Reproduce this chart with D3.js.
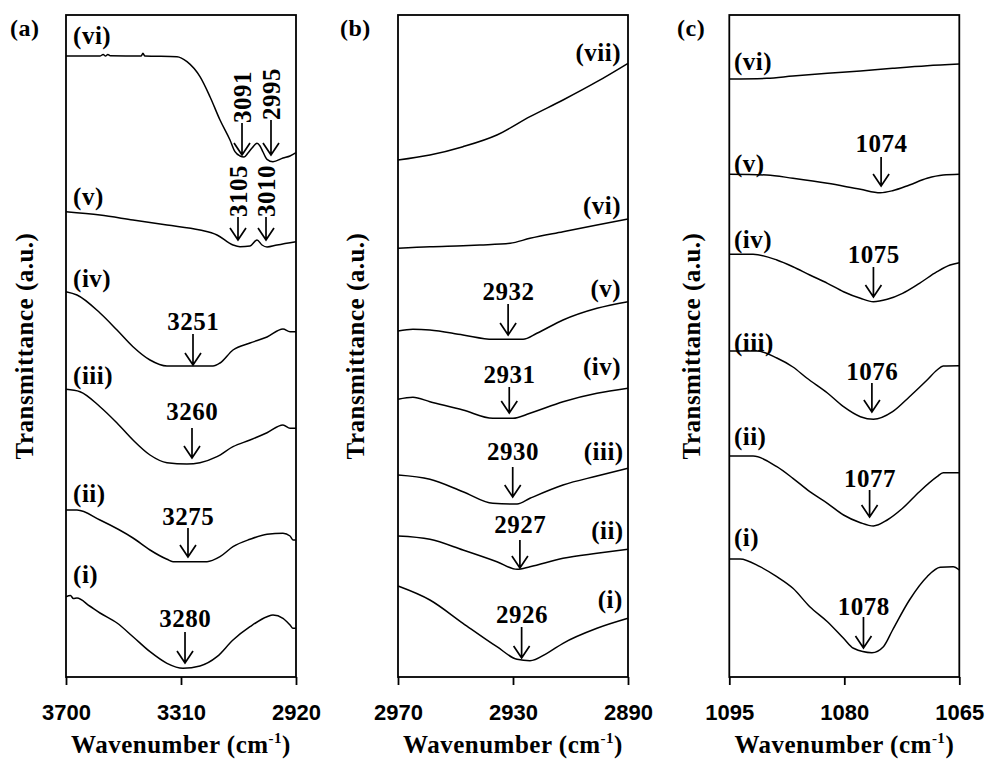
<!DOCTYPE html>
<html><head><meta charset="utf-8">
<script src="https://cdn.jsdelivr.net/npm/d3@7"></script>
<style>body{margin:0;background:#fff} svg{display:block}</style>
</head><body>
<svg id="chart" width="987" height="761"></svg>
<script>
// ---------------- DATA ----------------
const panelLetters = ["(a)", "(b)", "(c)"];
const ticksA = [3700, 3310, 2920];
const ticksB = [2970, 2930, 2890];
const ticksC = [1095, 1080, 1065];
const yTitle = "Transmittance (a.u.)";
const xTitle = "Wavenumber (cm";

// Panel (a) spectra : [wavenumber, transmittance (a.u., offset)]
const a_i = [[3700,80.3],[3685,81.5],[3675,78.5],[3662.7,79],[3620,71],[3584.7,64],[3527,54],[3472.8,40.3],[3415.1,25.3],[3357.5,13.7],[3303.3,8.7],[3245.6,11],[3187.9,20.3],[3133.7,37],[3076,50.3],[3018.3,60.3],[2998,62],[2964.1,58.7],[2940.3,52],[2930.2,48.7],[2920,48.7]];
const a_ii = [[3700,167],[3662.7,167],[3584.7,157],[3472.8,139],[3415.1,127],[3357.5,117.7],[3337.1,115.3],[3221.8,115.3],[3177.7,120.3],[3133.7,130.3],[3076,137.7],[3018.3,142.7],[2964.1,143.7],[2940.3,141],[2930.2,137],[2920,137]];
const a_iii = [[3700,287.7],[3652.5,285.3],[3584.7,270.3],[3527,254],[3472.8,237],[3415.1,222],[3357.5,214.3],[3289.7,213],[3245.6,214.3],[3187.9,220.3],[3133.7,230.3],[3076,237],[3018.3,244.3],[2964.1,252],[2940.3,248.7],[2920,248.7]];
const a_iv = [[3700,385.3],[3662.7,382],[3584.7,364],[3527,347],[3472.8,330.3],[3415.1,317],[3357.5,311],[3201.5,311],[3177.7,314],[3133.7,327],[3076,334],[3018.3,340],[2964.1,348],[2940.3,345.3],[2920,345.3]];
const a_v = [[3700,465.3],[3584.7,462],[3472.8,457],[3357.5,452],[3245.6,447],[3187.9,442],[3133.7,432],[3109.9,430.3],[3076,431],[3052.3,437],[3035.3,432],[3018.3,430],[2984.4,432],[2920,435.3]];
const a_vi = [[3700,621],[3584.7,621],[3574,622.5],[3566,621],[3558,622.5],[3550,621.3],[3445,621],[3439,623.7],[3433,621],[3323.6,620.3],[3289.7,615.3],[3245.6,600.3],[3211.7,580.3],[3177.7,557],[3143.8,537],[3126.9,525.3],[3109.9,521],[3096.3,520],[3082.8,524],[3069.2,529],[3052.3,533.7],[3042.1,531],[3031.9,525],[3018.3,517.7],[2998,515.3],[2964.1,519],[2940.3,521],[2920,524.3]];

// Panel (b)
const b_i = [[2970,91],[2958.9,77],[2947.4,53.7],[2935.6,30.3],[2928.6,17.7],[2924.1,16.3],[2918.2,23.7],[2912.6,33.7],[2900.8,48.7],[2890,58.7]];
const b_ii = [[2970,141],[2958.9,137.7],[2947.4,127],[2935.6,115.3],[2928.6,107.7],[2924.1,110.3],[2912.6,118.7],[2900.8,123.7],[2890,127.7]];
const b_iii = [[2970,202],[2958.9,197.7],[2947.4,185.3],[2937,173.7],[2928.6,173],[2924.1,178.7],[2912.6,192],[2900.8,201],[2890,208.7]];
const b_iv = [[2970,277.7],[2964.8,279.7],[2958.9,275.3],[2947.4,267],[2937,258.7],[2930,258.7],[2924.1,263.7],[2912.6,275.3],[2900.8,283.7],[2890,288.7]];
const b_v = [[2970,346],[2964.8,347.7],[2958.9,347],[2947.4,342],[2937,337.7],[2926.5,337.7],[2921.7,343.7],[2912.6,357],[2900.8,368.7],[2890,375.3]];
const b_vi = [[2970,428.7],[2958.9,430.3],[2947.4,431.3],[2941.5,432],[2931,433.7],[2924.1,438.7],[2912.6,445.3],[2900.8,452],[2890,458]];
const b_vii = [[2970,517],[2958.9,522],[2947.4,530.3],[2935.6,542],[2924.1,560.3],[2912.6,577],[2900.8,595.3],[2890,613.7]];

// Panel (c)
const c_i = [[1095,118],[1093.6,118],[1091,110.3],[1088.8,100.3],[1086.7,88.7],[1084.5,70.3],[1082.2,55.3],[1080.1,38.7],[1078.8,28.7],[1076.4,24.3],[1074.9,30.3],[1073.7,47],[1071.5,77],[1069.2,100.3],[1067.5,109.7],[1065.8,110.3],[1065,107]];
const c_ii = [[1095,221],[1091.9,221],[1088.8,210.3],[1086.7,198.7],[1084.5,185.3],[1082.2,173.7],[1080.1,162],[1077.9,154.3],[1076.2,151],[1074.4,157],[1072.4,168.7],[1070.2,185.3],[1067.9,200.3],[1067.1,204.3],[1065,204.3]];
const c_iii = [[1095,326],[1091.4,326],[1088.8,319],[1086.7,310],[1084.9,299],[1082.2,284],[1080.1,270.3],[1077.9,260.3],[1076.2,257.7],[1073.7,265.3],[1071.5,280.3],[1069.2,297],[1067.9,307],[1067.1,311],[1065,311.3]];
const c_iv = [[1095,422.7],[1091.9,422.7],[1088.8,417],[1086.7,410.3],[1084.5,402],[1082.2,393.7],[1080.1,385.3],[1077.9,378.7],[1076.2,375.3],[1074.4,377.7],[1072.4,383.7],[1070.2,393.7],[1067.9,405.3],[1066.2,412],[1065,414.3]];
const c_v = [[1095,502.7],[1090.1,502],[1086.7,498.7],[1082.2,493.7],[1077.9,487.7],[1075.3,484.3],[1073.7,486.3],[1071.5,492],[1069.2,498.7],[1067.1,502],[1065,502.7]];
const c_vi = [[1095,598],[1090.1,598.7],[1086.7,601],[1082.2,603.7],[1077.9,606],[1073.7,608.7],[1069.2,611.3],[1065,613]];

// Curve labels: [text, wavenumber, transmittance]
const labelsA = [["(vi)",3676,642],["(v)",3676,481],["(iv)",3676,399],["(iii)",3676,302],["(ii)",3676,184],["(i)",3676,103]];
const labelsB = [["(vii)",2892.4,625],["(vi)",2892.4,472],["(v)",2892.4,389],["(iv)",2892.4,311],["(iii)",2891.5,226],["(ii)",2891.5,147],["(i)",2891.8,78]];
const labelsC = [["(vi)",1094.4,616],["(v)",1094.4,514],["(iv)",1094.4,438],["(iii)",1094.4,335],["(ii)",1094.4,241],["(i)",1094.4,140]];

// Peak annotations: [text, wavenumber, text baseline, arrow start, arrow tip]
const peaksA = [["3280",3296.4,50,45,14],["3275",3286.3,152,149,120],["3260",3272.7,257,249,219],["3251",3269.3,347,343,312]];
const vpeaksA = [["3091",3103.1,554,554,522],["2995",3004.8,557,557,522],["3105",3116.7,460,460,437],["3010",3021.7,460,460,437]];
const peaksB = [["2932",2931.7,377,373,342],["2931",2931.3,294,290,264],["2930",2930.1,217,210,180],["2927",2927.6,144,137,109],["2926",2927.0,54,50,19]];
const peaksC = [["1074",1075.2,525,520,491],["1075",1076.2,414,410,380],["1076",1076.4,297,294,265],["1077",1076.7,190,187,160],["1078",1077.5,62,60,29]];

// ---------------- DRAW ----------------
const serif = "'Liberation Serif','Times New Roman',serif";
const sans = "'Liberation Sans',Arial,sans-serif";
const FS = 25, LS = 0.5;
const svg = d3.select("#chart");
const plotTop = 15, plotBottom = 677, panelW = 230;
const y = d3.scaleLinear().domain([0, 662]).range([plotBottom, plotTop]);

const panels = [
  {letter: panelLetters[0], left: 66, ticks: ticksA, series: [a_i,a_ii,a_iii,a_iv,a_v,a_vi], labels: labelsA, anchor: "start", peaks: peaksA, vpeaks: vpeaksA, letterX: 10, titleX: 24},
  {letter: panelLetters[1], left: 398, ticks: ticksB, series: [b_i,b_ii,b_iii,b_iv,b_v,b_vi,b_vii], labels: labelsB, anchor: "end", peaks: peaksB, vpeaks: [], letterX: 340, titleX: 355},
  {letter: panelLetters[2], left: 729.3, ticks: ticksC, series: [c_i,c_ii,c_iii,c_iv,c_v,c_vi], labels: labelsC, anchor: "start", peaks: peaksC, vpeaks: [], letterX: 677, titleX: 691}
];

function arrow(g, xp, y1, y2) {
  g.append("path")
    .attr("d", `M${xp},${y1}L${xp},${y2}M${xp-8},${y2-12}L${xp},${y2}L${xp+8},${y2-12}`)
    .attr("fill", "none").attr("stroke", "#000").attr("stroke-width", 1.7);
}

function serifText(sel, size) {
  return sel.attr("font-family", serif).attr("font-weight", "bold")
    .attr("font-size", size || FS).attr("letter-spacing", LS).attr("fill", "#000");
}

panels.forEach(p => {
  const x = d3.scaleLinear().domain([p.ticks[0], p.ticks[2]]).range([p.left, p.left + panelW]);
  const g = svg.append("g");
  const line = d3.line().x(d => x(d[0])).y(d => y(d[1])).curve(d3.curveMonotoneX);

  p.series.forEach(s => {
    g.append("path").attr("d", line(s)).attr("fill", "none")
      .attr("stroke", "#000").attr("stroke-width", 1.5).attr("stroke-linejoin", "round");
  });

  g.append("rect").attr("x", p.left).attr("y", plotTop).attr("width", panelW)
    .attr("height", plotBottom - plotTop).attr("fill", "none")
    .attr("stroke", "#000").attr("stroke-width", 1.8);

  const ax = g.append("g").attr("transform", `translate(0,${plotBottom})`)
    .call(d3.axisBottom(x).tickValues(p.ticks).tickSize(8).tickPadding(19).tickFormat(d3.format("d")));
  ax.select(".domain").remove();
  ax.selectAll(".tick line").attr("stroke", "#000").attr("stroke-width", 1.8);
  ax.selectAll(".tick text").attr("font-family", sans).attr("font-weight", "bold")
    .attr("font-size", 22).attr("fill", "#000");

  // curve labels
  p.labels.forEach(l => {
    serifText(g.append("text").attr("x", x(l[1])).attr("y", y(l[2])).attr("dy", "0.35em")
      .attr("text-anchor", p.anchor)).text(l[0]);
  });

  // peak labels with arrows
  p.peaks.forEach(k => {
    const xp = x(k[1]);
    serifText(g.append("text").attr("x", xp + 0.3).attr("y", y(k[2])).attr("text-anchor", "middle")).text(k[0]);
    arrow(g, xp, y(k[3]), y(k[4]));
  });
  p.vpeaks.forEach(k => {
    const xp = x(k[1]), y0 = y(k[2]);
    serifText(g.append("text").attr("transform", `translate(${xp},${y0}) rotate(-90)`)
      .attr("dy", "0.35em").attr("text-anchor", "start")).text(k[0]);
    arrow(g, xp, y(k[3]), y(k[4]));
  });

  // panel letter
  serifText(svg.append("text").attr("x", p.letterX).attr("y", 36), 24).text(p.letter);

  // y title
  serifText(svg.append("text").attr("transform", `translate(${p.titleX},${(plotTop + plotBottom) / 2}) rotate(-90)`)
    .attr("dy", "0.35em").attr("text-anchor", "middle")).text(yTitle);

  // x title
  const t = serifText(svg.append("text").attr("x", p.left + panelW / 2).attr("y", 753)
    .attr("text-anchor", "middle"));
  t.append("tspan").text(xTitle);
  t.append("tspan").attr("dy", -10).attr("font-size", 15).text("-1");
  t.append("tspan").attr("dy", 10).text(")");
});
</script>
</body></html>
